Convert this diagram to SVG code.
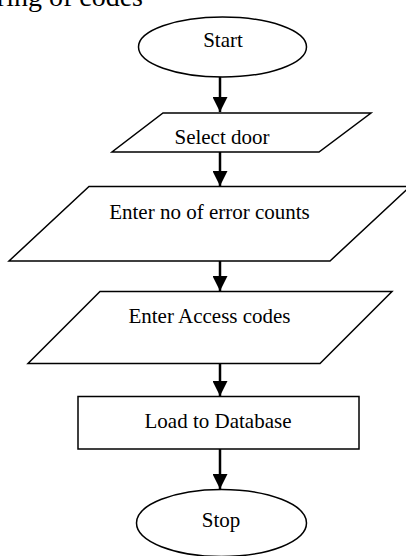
<svg xmlns="http://www.w3.org/2000/svg" width="406" height="556" viewBox="0 0 406 556">
<defs>
<style>
.s{fill:#fff;stroke:#000;stroke-width:1.5}
.t{font-family:"Liberation Serif","Times New Roman",serif;font-size:21px;fill:#000;text-anchor:middle}
.c{stroke:#000;stroke-width:2.5;fill:none}
</style>
<marker id="ah" markerWidth="15" markerHeight="15" viewBox="0 0 15 15" refX="15" refY="7.5" orient="auto" markerUnits="userSpaceOnUse">
<path d="M0,0 L15,7.5 L0,15 Z" fill="#000"/>
</marker>
</defs>
<rect width="406" height="556" fill="#fff"/>
<text x="143" y="6" style="font-family:'Liberation Serif','Times New Roman',serif;font-size:28px;text-anchor:end">ring of codes</text>
<g id="connectors">
<line class="c" x1="220" y1="77" x2="220" y2="112" marker-end="url(#ah)"/>
<line class="c" x1="220" y1="152" x2="220" y2="186" marker-end="url(#ah)"/>
<line class="c" x1="220" y1="261" x2="220" y2="291" marker-end="url(#ah)"/>
<line class="c" x1="220" y1="363" x2="220" y2="396" marker-end="url(#ah)"/>
<line class="c" x1="220" y1="449" x2="220" y2="489" marker-end="url(#ah)"/>
</g>
<g id="start">
<ellipse class="s" cx="222.5" cy="47" rx="84" ry="30"/>
<text class="t" x="223" y="47">Start</text>
</g>
<g id="select-door">
<polygon class="s" points="163,113 371,113 319,152 112,152"/>
<text class="t" x="222" y="144">Select door</text>
</g>
<g id="enter-error-counts">
<polygon class="s" points="89,186.5 410,186.5 330,261 9,261"/>
<text class="t" x="209.5" y="219">Enter no of error counts</text>
</g>
<g id="enter-access-codes">
<polygon class="s" points="100,291.5 392,291.5 320,363.5 28,363.5"/>
<text class="t" x="209.5" y="323">Enter Access codes</text>
</g>
<g id="load-database">
<rect class="s" x="78" y="396.5" width="281" height="52.5"/>
<text class="t" x="218" y="428">Load to Database</text>
</g>
<g id="stop">
<ellipse class="s" cx="221.5" cy="523" rx="85" ry="33.5"/>
<text class="t" x="221" y="527">Stop</text>
</g>
</svg>
